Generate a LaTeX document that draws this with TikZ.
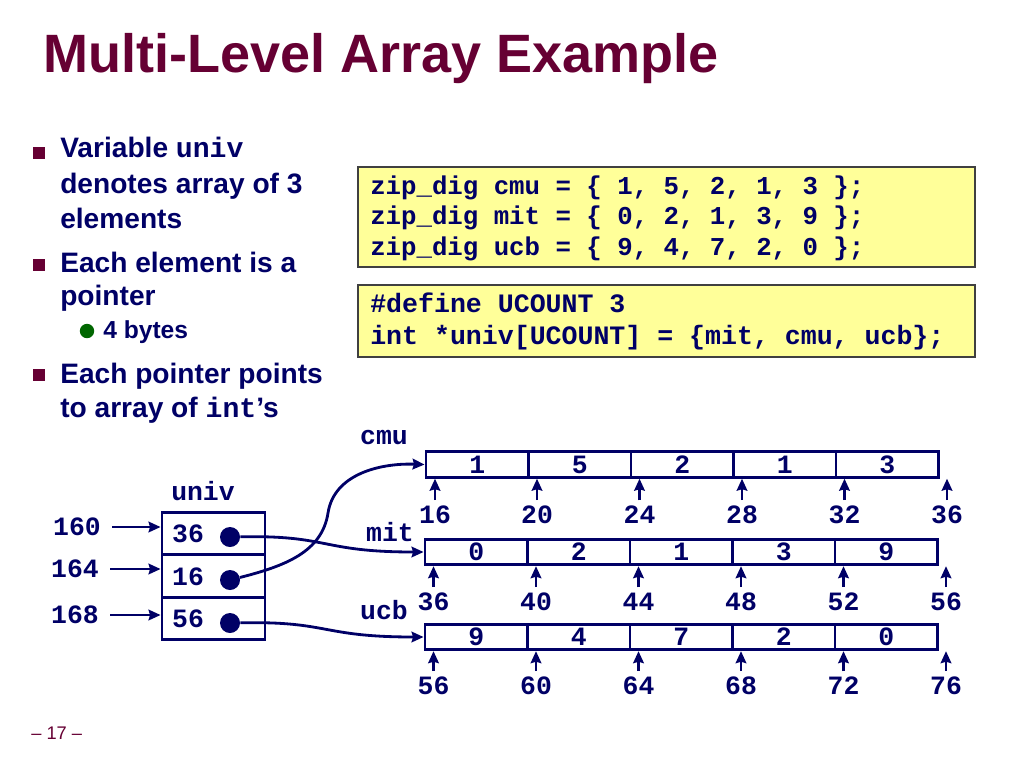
\documentclass[tikz,border=0pt]{standalone}
\usepackage{fontspec}
\setmainfont{Liberation Sans}
\setmonofont{Liberation Mono}
\usetikzlibrary{positioning,arrows.meta}

\definecolor{slidered}{RGB}{102,0,51}
\definecolor{slideblue}{RGB}{0,0,102}
\definecolor{slidegreen}{RGB}{0,102,0}
\definecolor{codeyellow}{RGB}{255,255,153}

\tikzset{
  bullettext/.style={anchor=base west, inner sep=0pt, text=slideblue, font=\fontsize{20}{24}\selectfont\bfseries},
  subtext/.style={anchor=base west, inner sep=0pt, text=slideblue, font=\fontsize{17.5}{21}\selectfont\bfseries},
  bulletsq/.style={fill=slidered, minimum size=0.29cm, inner sep=0pt},
  subdot/.style={circle, fill=slidegreen, minimum size=0.36cm, inner sep=0pt},
  codebox/.style={draw=black!75, line width=1.1pt, fill=codeyellow},
  codeline/.style={anchor=base west, inner sep=0pt, text=slideblue, font=\fontsize{18.3}{22}\selectfont\ttfamily\bfseries},
  memlabel/.style={text=slideblue, font=\fontsize{18.8}{22}\selectfont\ttfamily\bfseries, inner sep=1pt},
  cell/.style={draw=slideblue, line width=2pt, minimum width=2.5625cm, minimum height=0.6375cm, inner sep=0pt, memlabel},
  ptrcell/.style={draw=slideblue, line width=2pt, minimum width=2.575cm, minimum height=1.065cm, inner sep=0pt},
  ptrdot/.style={circle, fill=slideblue, minimum size=0.5cm, inner sep=0pt},
  ptrarrow/.style={draw=slideblue, line width=2pt, -{Stealth[length=8.5pt,width=7.5pt,inset=1pt]}},
  tickarrow/.style={ptrarrow, shorten <=3pt},
}

\begin{document}
\begin{tikzpicture}[x=0.025cm,y=-0.025cm]
  \useasboundingbox (0,0) rectangle (1024,768);
  % title
  \node[anchor=base west, inner sep=0pt, text=slidered, font=\fontsize{38.4}{46}\selectfont\bfseries] (title) at (43,73) {Multi-Level Array Example};

  % bullets
  \node[bulletsq] (bul1) at (39,153) {};
  \node[bullettext] (line1) at (60,157) {Variable \texttt{univ}};
  \node[bullettext] (line2) at (60,193) {denotes array of 3};
  \node[bullettext] (line3) at (60,228) {elements};
  \node[bulletsq] (bul2) at (39,265) {};
  \node[bullettext] (line4) at (60,272) {Each element is a};
  \node[bullettext] (line5) at (60,305) {pointer};
  \node[subdot] (bul3) at (87,331) {};
  \node[subtext] (line6) at (103,338) {4 bytes};
  \node[bulletsq] (bul4) at (39,375) {};
  \node[bullettext] (line7) at (60,383) {Each pointer points};
  \node[bullettext] (line8) at (60,417) {to array of \texttt{int}’s};

  % code boxes
  \draw[codebox] (358,167) rectangle (975,267);
  \node[codeline] (zip1) at (370,194) {zip\_dig cmu = \{ 1, 5, 2, 1, 3 \};};
  \node[codeline] (zip2) at (370,224) {zip\_dig mit = \{ 0, 2, 1, 3, 9 \};};
  \node[codeline] (zip3) at (370,255) {zip\_dig ucb = \{ 9, 4, 7, 2, 0 \};};
  \draw[codebox] (358,285) rectangle (975,357);
  \node[codeline, font=\fontsize{18.9}{22}\selectfont\ttfamily\bfseries] (def1) at (370,312) {\#define UCOUNT 3};
  \node[codeline, font=\fontsize{18.9}{22}\selectfont\ttfamily\bfseries] (def2) at (370,344) {int *univ[UCOUNT] = \{mit, cmu, ucb\};};

  % univ array
  \node[memlabel] (univlbl) at (203,491) {univ};
  \node[ptrcell] (univ0) at (213.5,533.5) {};
  \node[ptrcell] (univ1) at (213.5,576) {};
  \node[ptrcell] (univ2) at (213.5,618.5) {};
  \node[memlabel] (val0) at (188,534) {36};
  \node[memlabel] (val1) at (188,577) {16};
  \node[memlabel] (val2) at (188,619) {56};
  \node[ptrdot] (dot0) at (230,537) {};
  \node[ptrdot] (dot1) at (230,580) {};
  \node[ptrdot] (dot2) at (230,623) {};
  \node[memlabel] (addr160) at (77,527) {160};
  \node[memlabel] (addr164) at (75,569) {164};
  \node[memlabel] (addr168) at (75,615) {168};
  \draw[ptrarrow, shorten <=7pt] (addr160) -- (addr160 -| univ0.west);
  \draw[ptrarrow, shorten <=7pt] (addr164) -- (addr164 -| univ1.west);
  \draw[ptrarrow, shorten <=7pt] (addr168) -- (addr168 -| univ2.west);

  % cmu
  \node[memlabel] (cmulbl) at (384,438) {cmu};
  \node[cell] (cmuc1) at (477.25,464.5) {1};
  \node[cell] (cmuc2) at (579.75,464.5) {5};
  \node[cell] (cmuc3) at (682.25,464.5) {2};
  \node[cell] (cmuc4) at (784.75,464.5) {1};
  \node[cell] (cmuc5) at (887.25,464.5) {3};
  \node[memlabel] (cmu16) at (435,515) {16};
  \node[memlabel] (cmu20) at (537,515) {20};
  \node[memlabel] (cmu24) at (639.5,515) {24};
  \node[memlabel] (cmu28) at (742,515) {28};
  \node[memlabel] (cmu32) at (844.5,515) {32};
  \node[memlabel] (cmu36) at (947,515) {36};
  \draw[tickarrow] (cmu16) -- (cmu16 |- cmuc1.south);
  \draw[tickarrow] (cmu20) -- (cmu20 |- cmuc1.south);
  \draw[tickarrow] (cmu24) -- (cmu24 |- cmuc1.south);
  \draw[tickarrow] (cmu28) -- (cmu28 |- cmuc1.south);
  \draw[tickarrow] (cmu32) -- (cmu32 |- cmuc1.south);
  \draw[tickarrow] (cmu36) -- (cmu36 |- cmuc1.south);

  % mit
  \node[memlabel] (mitlbl) at (390,532) {mit};
  \node[cell] (mitc1) at (476.25,552) {0};
  \node[cell] (mitc2) at (578.75,552) {2};
  \node[cell] (mitc3) at (681.25,552) {1};
  \node[cell] (mitc4) at (783.75,552) {3};
  \node[cell] (mitc5) at (886.25,552) {9};
  \node[memlabel] (mit36) at (433.5,602) {36};
  \node[memlabel] (mit40) at (536,602) {40};
  \node[memlabel] (mit44) at (638.5,602) {44};
  \node[memlabel] (mit48) at (741,602) {48};
  \node[memlabel] (mit52) at (843.5,602) {52};
  \node[memlabel] (mit56) at (946,602) {56};
  \draw[tickarrow] (mit36) -- (mit36 |- mitc1.south);
  \draw[tickarrow] (mit40) -- (mit40 |- mitc1.south);
  \draw[tickarrow] (mit44) -- (mit44 |- mitc1.south);
  \draw[tickarrow] (mit48) -- (mit48 |- mitc1.south);
  \draw[tickarrow] (mit52) -- (mit52 |- mitc1.south);
  \draw[tickarrow] (mit56) -- (mit56 |- mitc1.south);

  % ucb
  \node[memlabel] (ucblbl) at (384,610) {ucb};
  \node[cell] (ucbc1) at (476.25,637) {9};
  \node[cell] (ucbc2) at (578.75,637) {4};
  \node[cell] (ucbc3) at (681.25,637) {7};
  \node[cell] (ucbc4) at (783.75,637) {2};
  \node[cell] (ucbc5) at (886.25,637) {0};
  \node[memlabel] (ucb56) at (433.5,686) {56};
  \node[memlabel] (ucb60) at (536,686) {60};
  \node[memlabel] (ucb64) at (638.5,686) {64};
  \node[memlabel] (ucb68) at (741,686) {68};
  \node[memlabel] (ucb72) at (843.5,686) {72};
  \node[memlabel] (ucb76) at (946,686) {76};
  \draw[tickarrow] (ucb56) -- (ucb56 |- ucbc1.south);
  \draw[tickarrow] (ucb60) -- (ucb60 |- ucbc1.south);
  \draw[tickarrow] (ucb64) -- (ucb64 |- ucbc1.south);
  \draw[tickarrow] (ucb68) -- (ucb68 |- ucbc1.south);
  \draw[tickarrow] (ucb72) -- (ucb72 |- ucbc1.south);
  \draw[tickarrow] (ucb76) -- (ucb76 |- ucbc1.south);

  % pointers
  \draw[ptrarrow] (dot0) .. controls (330,535) and (320,552) .. (mitc1.west);
  \draw[ptrarrow] (dot1) .. controls (285,566) and (322,552) .. (328,513)
    .. controls (334,474) and (380,463) .. (cmuc1.west);
  \draw[ptrarrow] (dot2) .. controls (330,621) and (320,637) .. (ucbc1.west);

  % page number
  \node[anchor=base west, inner sep=0pt, text=slidered, font=\fontsize{13}{15}\selectfont] (pagenum) at (31,739) {– 17 –};
\end{tikzpicture}
\end{document}
